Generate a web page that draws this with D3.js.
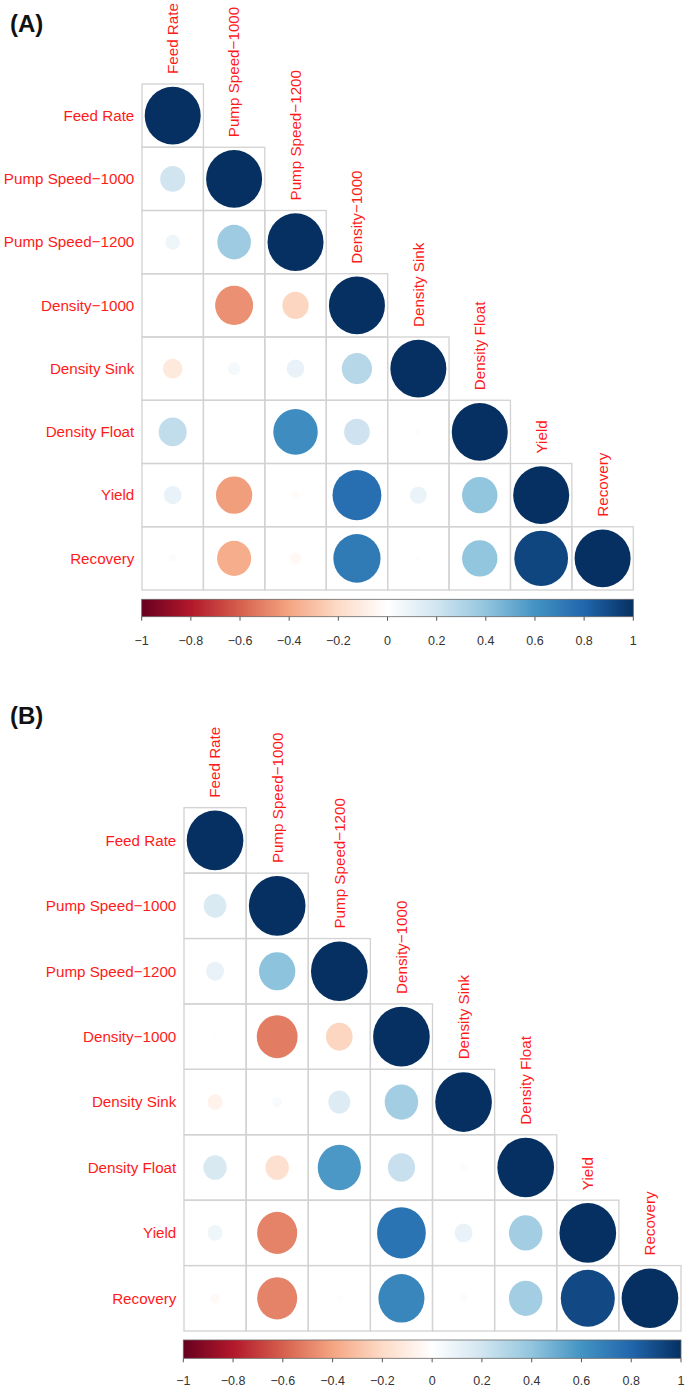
<!DOCTYPE html>
<html>
<head>
<meta charset="utf-8">
<script src="https://cdn.jsdelivr.net/npm/d3@7"></script>
<style>
  html, body { margin: 0; padding: 0; background: #fff; }
  svg { display: block; font-family: "Liberation Sans", Arial, Helvetica, sans-serif; }
</style>
</head>
<body>
<svg id="chart" width="685" height="1389"></svg>
<script>
// ---------------- DATA ----------------
const variables = ["Feed Rate", "Pump Speed\u22121000", "Pump Speed\u22121200", "Density\u22121000",
                   "Density Sink", "Density Float", "Yield", "Recovery"];

// lower-triangle correlation values, panel (A)
const corrA = [
  [1],
  [0.20, 1],
  [0.07, 0.36, 1],
  [0.01, -0.46, -0.22, 1],
  [-0.12, 0.05, 0.10, 0.29, 1],
  [0.25, 0.01, 0.63, 0.21, -0.01, 1],
  [0.10, -0.42, -0.02, 0.76, 0.09, 0.40, 1],
  [0.02, -0.37, -0.04, 0.71, -0.01, 0.40, 0.92, 1]
];

// lower-triangle correlation values, panel (B)
const corrB = [
  [1],
  [0.16, 1],
  [0.10, 0.41, 1],
  [0.01, -0.52, -0.22, 1],
  [-0.07, 0.03, 0.15, 0.35, 1],
  [0.17, -0.17, 0.58, 0.23, -0.02, 1],
  [0.07, -0.50, 0.01, 0.74, 0.10, 0.35, 1],
  [-0.03, -0.50, -0.01, 0.66, 0.02, 0.35, 0.91, 1]
];

const colorbarTicks = [-1, -0.8, -0.6, -0.4, -0.2, 0, 0.2, 0.4, 0.6, 0.8, 1];
const colorbarTickLabels = ["\u22121", "\u22120.8", "\u22120.6", "\u22120.4", "\u22120.2", "0", "0.2", "0.4", "0.6", "0.8", "1"];
const panelTitles = ["(A)", "(B)"];

// RdBu palette (corrplot COL2)
const paletteColors = ["#67001F", "#B2182B", "#D6604D", "#F4A582", "#FDDBC7", "#FFFFFF",
                       "#D1E5F0", "#92C5DE", "#4393C3", "#2166AC", "#053061"];

// ---------------- LAYOUT ----------------
const panels = [
  { title: panelTitles[0], data: corrA, titleY: 31.7,
    gx0: 142, gx1: 633.3, gy0: 84, gy1: 590,
    bx0: 141.7, bx1: 633.3, by0: 599.3, by1: 616.7, labY: 644.5 },
  { title: panelTitles[1], data: corrB, titleY: 723.5,
    gx0: 184, gx1: 681, gy0: 807.7, gy1: 1331,
    bx0: 183.3, bx1: 681, by0: 1340, by1: 1358.3, labY: 1385 }
];

const svg = d3.select("#chart");
const colorScale = d3.scaleLinear()
  .domain(d3.range(paletteColors.length).map(i => -1 + 2 * i / (paletteColors.length - 1)))
  .range(paletteColors)
  .interpolate(d3.interpolateRgb);

const defs = svg.append("defs");
const grad = defs.append("linearGradient").attr("id", "cbar")
  .attr("x1", "0%").attr("x2", "100%").attr("y1", "0%").attr("y2", "0%");
d3.range(0, 101).forEach(i => {
  const v = -1 + 2 * i / 100;
  grad.append("stop").attr("offset", i + "%").attr("stop-color", colorScale(v));
});

panels.forEach(p => {
  const g = svg.append("g");
  const x = d3.scaleBand().domain(variables).range([p.gx0, p.gx1]).padding(0);
  const y = d3.scaleBand().domain(variables).range([p.gy0, p.gy1]).padding(0);
  const cw = x.bandwidth(), ch = y.bandwidth();

  // title
  g.append("text").attr("x", 10).attr("y", p.titleY)
    .attr("font-size", 24).attr("font-weight", "bold").attr("fill", "#111")
    .text(p.title);

  const cells = [];
  p.data.forEach((row, i) => row.forEach((v, j) => cells.push({ r: variables[i], c: variables[j], v })));

  // grid cells
  g.selectAll("rect.cell").data(cells).join("rect")
    .attr("class", "cell")
    .attr("x", d => x(d.c)).attr("y", d => y(d.r))
    .attr("width", cw).attr("height", ch)
    .attr("fill", "none").attr("stroke", "#d2d2d2").attr("stroke-width", 1.3);

  // circles: area proportional to |r|
  const rScale = d3.scaleSqrt().domain([0, 1]).range([0, 0.456]);
  g.selectAll("ellipse.dot").data(cells).join("ellipse")
    .attr("class", "dot")
    .attr("cx", d => x(d.c) + cw / 2).attr("cy", d => y(d.r) + ch / 2)
    .attr("rx", d => rScale(Math.abs(d.v)) * cw)
    .attr("ry", d => rScale(Math.abs(d.v)) * ch)
    .attr("fill", d => colorScale(d.v));

  // row labels
  g.selectAll("text.rowlab").data(variables).join("text")
    .attr("class", "rowlab")
    .attr("x", p.gx0 - 7.7).attr("y", d => y(d) + ch / 2)
    .attr("dy", "0.35em").attr("text-anchor", "end")
    .attr("font-size", 15.2).attr("fill", "#ff1a1a")
    .text(d => d);

  // column labels (above diagonal cell)
  g.selectAll("text.collab").data(variables).join("text")
    .attr("class", "collab")
    .attr("transform", d => `translate(${x(d) + cw / 2},${y(d) - 10}) rotate(-90)`)
    .attr("dy", "0.35em").attr("text-anchor", "start")
    .attr("font-size", 15.2).attr("fill", "#ff1a1a")
    .text(d => d);

  // colorbar
  const cx = d3.scaleLinear().domain([-1, 1]).range([p.bx0, p.bx1]);
  g.append("rect").attr("x", p.bx0).attr("y", p.by0)
    .attr("width", p.bx1 - p.bx0).attr("height", p.by1 - p.by0)
    .attr("fill", "url(#cbar)").attr("stroke", "#666").attr("stroke-width", 0.8);

  g.selectAll("line.tick").data(colorbarTicks).join("line")
    .attr("class", "tick")
    .attr("x1", d => cx(d)).attr("x2", d => cx(d))
    .attr("y1", p.by1).attr("y2", p.by1 + 4)
    .attr("stroke", "#555").attr("stroke-width", 1);

  g.selectAll("text.ticklab").data(colorbarTicks).join("text")
    .attr("class", "ticklab")
    .attr("x", d => cx(d)).attr("y", p.labY)
    .attr("text-anchor", "middle").attr("font-size", 12.5).attr("fill", "#333")
    .text((d, i) => colorbarTickLabels[i]);
});
</script>
</body>
</html>
